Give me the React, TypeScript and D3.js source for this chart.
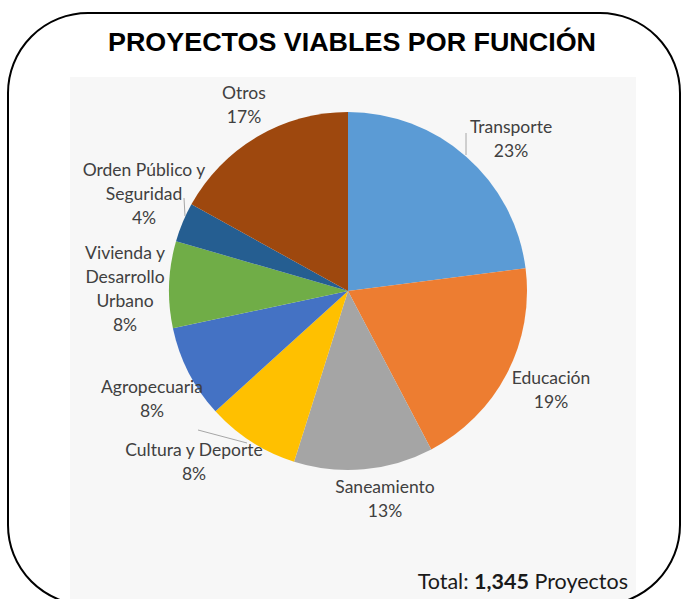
import React from "react";
import * as d3 from "d3";

const categories = ["Transporte", "Educación", "Saneamiento", "Cultura y Deporte", "Agropecuaria", "Vivienda y Desarrollo Urbano", "Orden Público y Seguridad", "Otros"];
const projects = [309, 260, 169, 113, 113, 105, 48, 228];
const colors = ["#5B9BD5", "#ED7D31", "#A5A5A5", "#FFC000", "#4472C4", "#70AD47", "#255E91", "#9E480E"];
const labelLines = [["Transporte"], ["Educación"], ["Saneamiento"], ["Cultura y Deporte"], ["Agropecuaria"], ["Vivienda y", "Desarrollo", "Urbano"], ["Orden Público y", "Seguridad"], ["Otros"]];
const title = "PROYECTOS VIABLES POR FUNCIÓN";

// label layout (center x, first line center y)
const labelPos: [number, number][] = [[511, 127], [551, 378], [385, 487], [194, 450], [152, 387], [125, 253], [144, 170], [244, 93]];
const leaders: [number, number, number, number][] = [[466, 133, 466, 155], [0, 0, 0, 0], [0, 0, 0, 0], [198, 430, 247, 443], [0, 0, 0, 0], [0, 0, 0, 0], [184, 198, 185, 216], [0, 0, 0, 0]];

export default function App() {
  const W = 682, H = 599;
  const cx = 348, cy = 291, r = 179;
  const total = d3.sum(projects);
  const pie = d3.pie<number>().sort(null).startAngle(0).endAngle(2 * Math.PI);
  const arcs = pie(projects);
  const arc = d3.arc<d3.PieArcDatum<number>>().innerRadius(0).outerRadius(r);
  const lh = 23.8;
  const font = "Lato, 'Open Sans', sans-serif";
  return (
    <div style={{ position: "absolute", left: 0, top: 0 }}>
      <svg width={W} height={H} style={{ display: "block" }}>
        <rect x={0} y={0} width={W} height={H} fill="#ffffff" />
        <rect x={70} y={77} width={566} height={522} fill="#f7f7f7" />
        <g transform={`translate(${cx},${cy})`}>
          {arcs.map((a, i) => (
            <path key={i} d={arc(a) || ""} fill={colors[i]} />
          ))}
        </g>
        {leaders.map((l, i) =>
          l[0] === 0 ? null : (
            <line key={i} x1={l[0]} y1={l[1]} x2={l[2]} y2={l[3]} stroke="#a6a6a6" strokeWidth={1} />
          )
        )}
        {arcs.map((a, i) => {
          const [x, y] = labelPos[i];
          const pct = Math.round((projects[i] / total) * 100) + "%";
          const lines = [...labelLines[i], pct];
          return (
            <text key={i} x={x} y={y} textAnchor="middle" fontFamily={font} fontSize={17.5} fill="#404040">
              {lines.map((t, j) => (
                <tspan key={j} x={x} y={y + j * lh} dy="0.36em">{t}</tspan>
              ))}
            </text>
          );
        })}
        <text x={628} y={581} dy="0.36em" textAnchor="end" fontFamily={font} fontSize={21.5} fill="#1a1a1a">
          Total: <tspan fontWeight="bold">{d3.format(",")(total)}</tspan> Proyectos
        </text>
        <text x={352} y={51} textAnchor="middle" fontFamily="'Liberation Sans', Arial, sans-serif" fontWeight="bold" fontSize={26} fill="#000" textLength={488} lengthAdjust="spacingAndGlyphs">
          {title}
        </text>
        <rect x={8} y={13} width={672} height={592} rx={80} ry={80} fill="none" stroke="#000" strokeWidth={2} />
      </svg>
    </div>
  );
}
